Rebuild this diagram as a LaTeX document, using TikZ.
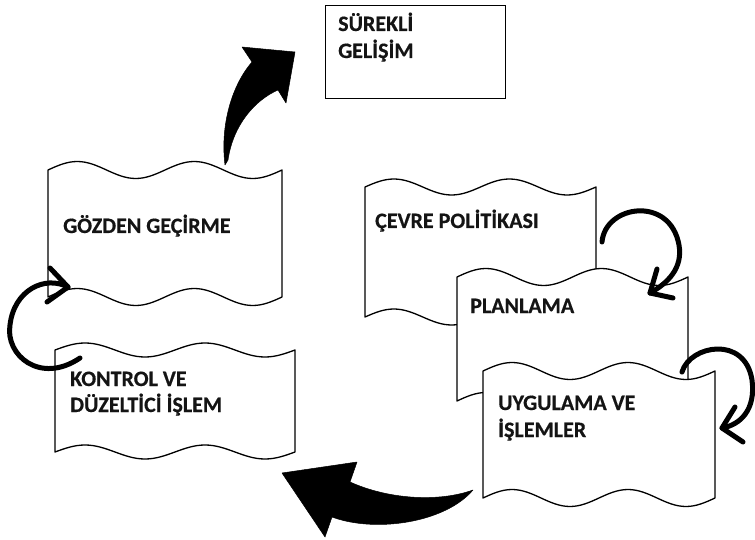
\documentclass[tikz,border=0pt]{standalone}
\usepackage{fontspec}
\setmainfont{Carlito}
\newfontfamily\lblfont{Carlito}[UprightFont={* Bold}, FakeBold=0.5]
\begin{document}
\begin{tikzpicture}[x=1pt,y=-1pt,
  flag/.style={draw=black, fill=white, line width=1.3pt, line join=round},
  lbl/.style={font=\lblfont\fontsize{22}{26}\selectfont, anchor=base west, inner sep=0pt, text=black!92},
  bigarrow/.style={fill=black, draw=black, line width=0.5pt, line join=round},
  ringarrow/.style={draw=black, line width=5pt, line cap=round, line join=round},
  goalbox/.style={draw=black, line width=1.4pt, fill=white, anchor=north west, minimum width=180pt, minimum height=93pt, inner sep=0pt}]
\newcommand\flagshape[5]{%
  \pgfmathsetmacro\fw{(#2-#1)/8}%
  \draw[flag] (#1,#3) sin ++(\fw,-#5) cos ++(\fw,#5) sin ++(\fw,#5) cos ++(\fw,-#5)
     sin ++(\fw,-#5) cos ++(\fw,#5) sin ++(\fw,#5) cos ++(\fw,-#5)
     -- (#2,#4) sin ++(-\fw,#5) cos ++(-\fw,-#5) sin ++(-\fw,-#5) cos ++(-\fw,#5)
     sin ++(-\fw,#5) cos ++(-\fw,-#5) sin ++(-\fw,-#5) cos ++(-\fw,#5) -- cycle;}
\useasboundingbox (0,0) rectangle (755,540);
\fill[white] (0,0) rectangle (755,540);

% goal box
\node[goalbox] (goal) at (325,5) {};
\node[lbl] (g1) at (338,31) {SÜREKLİ};
\node[lbl] (g2) at (338,58) {GELİŞİM};

% review / check shapes
\flagshape{48}{282}{170}{297}{8.5}
\node[lbl] (review) at (63,233) {GÖZDEN GEÇİRME};
\flagshape{55}{295}{350}{452}{7}
\node[lbl] (check1) at (70,386) {KONTROL VE};
\node[lbl] (check2) at (70,412) {DÜZELTİCİ İŞLEM};

% policy / plan / do
\flagshape{365}{596}{187}{317}{8}
\node[lbl] (policy) at (375,228) {ÇEVRE POLİTİKASI};
\flagshape{457}{688}{277}{401}{8.5}
\node[lbl] (plan) at (470,313) {PLANLAMA};
\flagshape{483}{715}{371}{498}{8.5}
\node[lbl] (do1) at (498,410) {UYGULAMA VE};
\node[lbl] (do2) at (498,437) {İŞLEMLER};

% big arrow to goal
\coordinate (a1tail) at (225,165);
\coordinate (a1tip) at (295,52);
\fill[bigarrow] (a1tail) .. controls (220,125) and (232,85) .. (252,62)
  -- (242,47) -- (a1tip) -- (286,103) -- (278,90)
  .. controls (255,100) and (233,125) .. (228,160) -- cycle;

% big arrow bottom
\coordinate (a2tail) at (473,490);
\coordinate (a2tip) at (282,473);
\fill[bigarrow] (a2tail) .. controls (440,502) and (390,500) .. (350,482)
  -- (357,462) -- (a2tip) -- (325,537) -- (332,517)
  .. controls (375,533) and (445,523) .. (a2tail) -- cycle;

% ring arrow left
\coordinate (r1s) at (80,358);
\coordinate (r1e) at (68,287);
\draw[ringarrow] (r1s) .. controls (40,385) and (5,355) .. (10,325)
  .. controls (14,290) and (45,275) .. (r1e);
\draw[ringarrow] (50,268) -- (r1e) -- (47,302);

% ring arrow policy -> plan
\coordinate (r2s) at (602,242);
\coordinate (r2e) at (650,293);
\draw[ringarrow] (r2s) .. controls (605,205) and (670,195) .. (679,245)
  .. controls (683,268) and (668,283) .. (r2e);
\draw[ringarrow] (657,269) -- (r2e) -- (673,298);

% ring arrow plan -> do
\coordinate (r3s) at (682,372);
\coordinate (r3e) at (722,428);
\draw[ringarrow] (r3s) .. controls (690,345) and (745,335) .. (752,380)
  .. controls (756,410) and (740,425) .. (r3e);
\draw[ringarrow] (735,407) -- (r3e) -- (743,442);
\end{tikzpicture}
\end{document}
